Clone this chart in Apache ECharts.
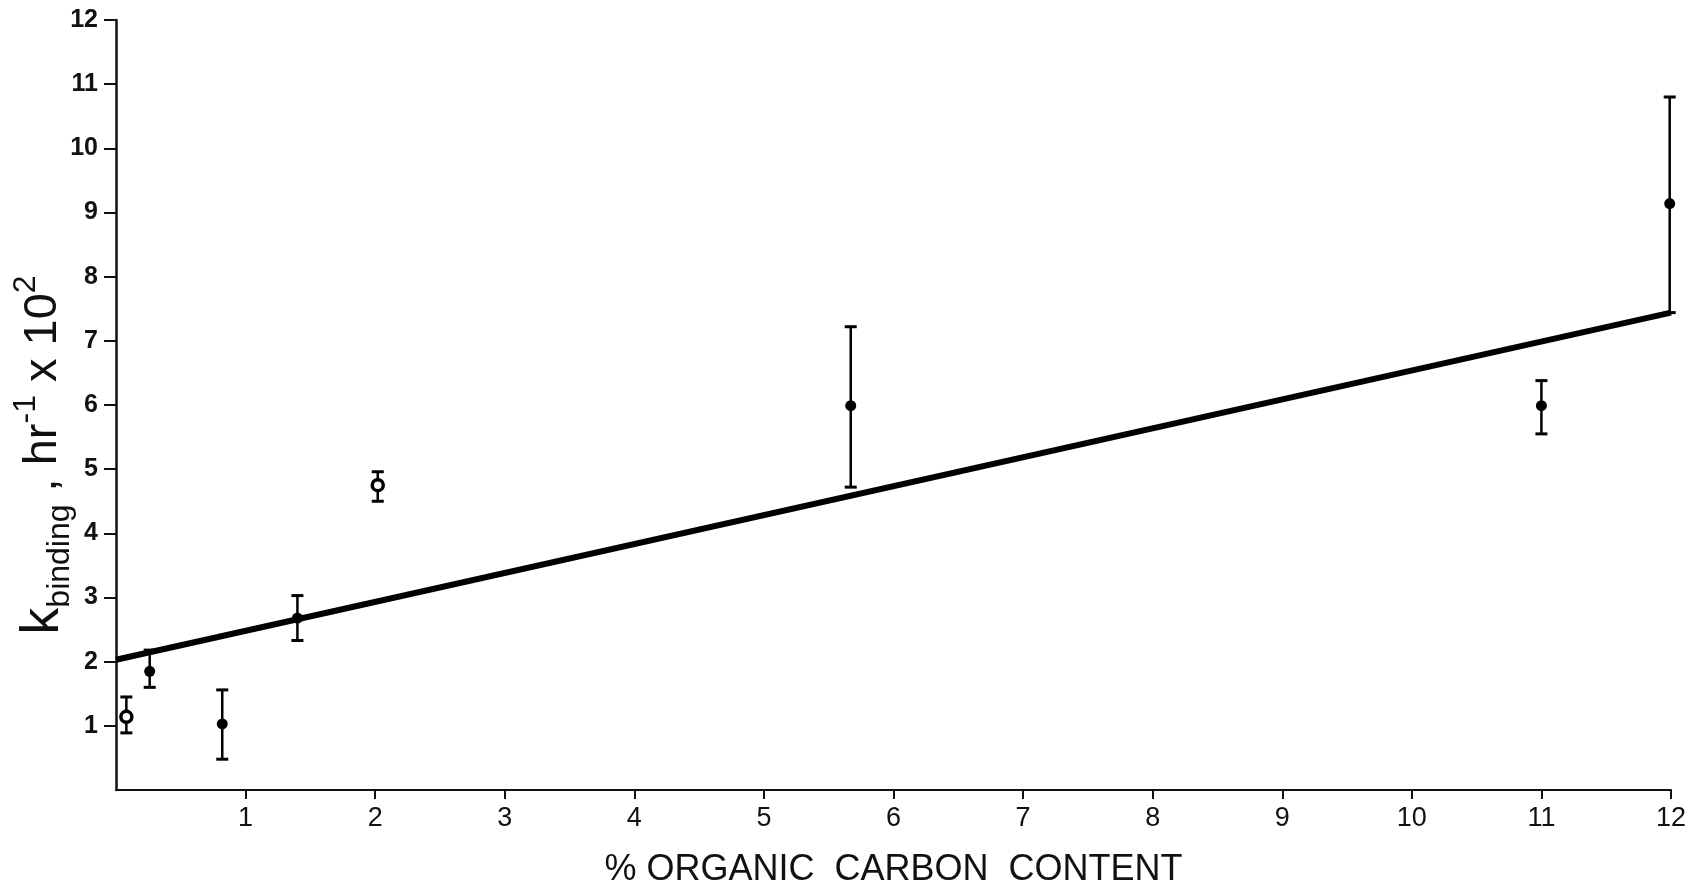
<!DOCTYPE html>
<html>
<head>
<meta charset="utf-8">
<script src="https://cdn.jsdelivr.net/npm/echarts@6/dist/echarts.min.js"></script>
<style>
  html, body { margin: 0; padding: 0; background: #fff; }
  #chart { width: 1692px; height: 890px; }
</style>
</head>
<body>
<div id="chart"></div>
<script>
// % organic carbon content (x) and k_binding (hr^-1 x 10^2)
const carbonPct = [0.08, 0.26, 0.82, 1.40, 2.02, 5.67, 11.00, 11.99];
const kBinding  = [1.14, 1.85, 1.03, 2.68, 4.75, 5.99, 5.99, 9.14];
const errLow    = [0.89, 1.60, 0.48, 2.33, 4.50, 4.72, 5.55, 7.44];
const errHigh   = [1.45, 2.18, 1.56, 3.03, 4.96, 7.22, 6.38, 10.80];
const hollow    = [true, false, false, false, true, false, false, false];
// regression line read at its ends
const fitX = [0, 12];
const fitY = [2.03, 7.44];
const xTicks = [1,2,3,4,5,6,7,8,9,10,11,12];
const yTicks = [1,2,3,4,5,6,7,8,9,10,11,12];

const chart = echarts.init(document.getElementById('chart'), null, {renderer: 'canvas'});
const FONT = 'Liberation Sans, Arial, sans-serif';

const option = {
  backgroundColor: '#ffffff',
  animation: false,
  grid: { left: 116, right: 21, top: 20, bottom: 100, containLabel: false, outerBoundsMode: 'none' },
  xAxis: {
    type: 'value', min: 0, max: 12, interval: 1,
    name: '% ORGANIC  CARBON  CONTENT',
    nameLocation: 'middle', nameGap: 62, nameMoveOverlap: false,
    nameTextStyle: { fontFamily: FONT, fontSize: 36, color: '#111' },
    axisLine: { show: true, lineStyle: { color: '#111', width: 2 } },
    axisTick: { show: true, inside: false, length: 9, lineStyle: { color: '#111', width: 2 } },
    axisLabel: {
      showMinLabel: false, margin: 15, fontFamily: FONT, fontSize: 27, color: '#111',
      formatter: v => xTicks.includes(v) ? String(v) : ''
    },
    splitLine: { show: false }
  },
  yAxis: {
    type: 'value', min: 0, max: 12, interval: 1,
    name: '{k|k}{sub|binding}{t| , hr}{sup|-1}{t| x 10}{sup|2}',
    nameLocation: 'middle', nameRotate: 90, nameGap: 40, nameMoveOverlap: false,
    nameTextStyle: {
      fontFamily: FONT, color: '#111', padding: [0, 100, 0, 0],
      rich: {
        k:   { fontFamily: FONT, fontSize: 54, color: '#111', lineHeight: 66, verticalAlign: 'middle' },
        t:   { fontFamily: FONT, fontSize: 47, color: '#111', lineHeight: 66, verticalAlign: 'middle' },
        sub: { fontFamily: FONT, fontSize: 32, color: '#111', lineHeight: 32, verticalAlign: 'bottom' },
        sup: { fontFamily: FONT, fontSize: 32, color: '#111', lineHeight: 36, verticalAlign: 'top' }
      }
    },
    axisLine: { show: true, lineStyle: { color: '#111', width: 2.5 } },
    axisTick: { show: true, inside: false, length: 12, lineStyle: { color: '#111', width: 2 } },
    axisLabel: {
      showMinLabel: false, margin: 18, fontFamily: FONT, fontSize: 25, fontWeight: 'bold', color: '#111',
      formatter: v => yTicks.includes(v) ? String(v) : ''
    },
    splitLine: { show: false }
  },
  series: [
    {
      type: 'line', name: 'fit',
      data: fitX.map((x, i) => [x, fitY[i]]),
      symbol: 'none', z: 3,
      lineStyle: { color: '#000', width: 6 }
    },
    {
      type: 'custom', name: 'error',
      data: carbonPct.map((x, i) => [x, errLow[i], errHigh[i]]),
      z: 4,
      renderItem: function (params, api) {
        const x = api.value(0);
        const lo = api.coord([x, api.value(1)]);
        const hi = api.coord([x, api.value(2)]);
        const cap = 6;
        const st = { stroke: '#000', lineWidth: 2.5 };
        return {
          type: 'group',
          children: [
            { type: 'line', shape: { x1: lo[0], y1: lo[1], x2: hi[0], y2: hi[1] }, style: st },
            { type: 'line', shape: { x1: hi[0] - cap, y1: hi[1], x2: hi[0] + cap, y2: hi[1] }, style: { stroke: '#000', lineWidth: 3 } },
            { type: 'line', shape: { x1: lo[0] - cap, y1: lo[1], x2: lo[0] + cap, y2: lo[1] }, style: { stroke: '#000', lineWidth: 3 } }
          ]
        };
      }
    },
    {
      type: 'scatter', name: 'k binding', z: 5,
      data: carbonPct.map((x, i) => ({
        value: [x, kBinding[i]],
        itemStyle: hollow[i]
          ? { color: '#ffffff', borderColor: '#000000', borderWidth: 3.5, opacity: 1 }
          : { color: '#000000', borderWidth: 0, opacity: 1 }
      })),
      symbol: 'circle',
      symbolSize: 11
    }
  ]
};
chart.setOption(option);
</script>
</body>
</html>
